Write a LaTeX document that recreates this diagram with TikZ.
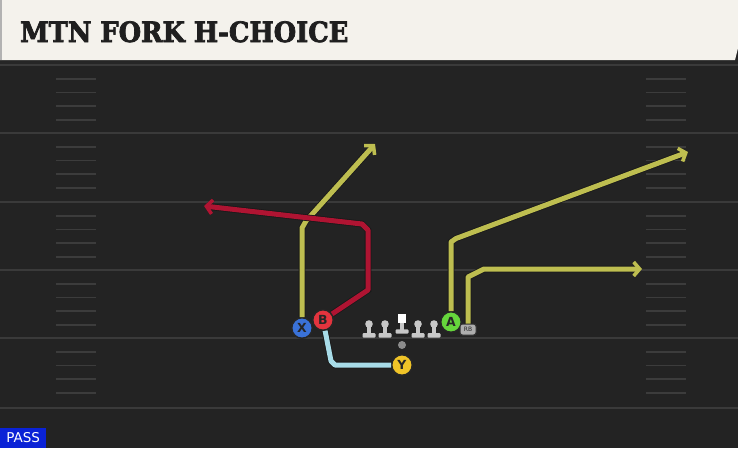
\documentclass[tikz,border=0pt]{standalone}
\usepackage{fontspec}
\setsansfont{DejaVu Sans}
\newfontfamily\titlefont{DejaVu Serif}[FakeStretch=0.92,FakeBold=2.6]
\usetikzlibrary{arrows.meta}

\definecolor{field}{HTML}{232323}
\definecolor{yardline}{HTML}{3A3A3A}
\definecolor{hashmark}{HTML}{3C3C3C}
\definecolor{titlebg}{HTML}{F4F2EC}
\definecolor{olive}{HTML}{BEBE50}
\definecolor{crimson}{HTML}{AF1432}
\definecolor{skyblue}{HTML}{A8DCE8}
\definecolor{xblue}{HTML}{3A72D8}
\definecolor{bred}{HTML}{E3343E}
\definecolor{yyellow}{HTML}{F0C428}
\definecolor{agreen}{HTML}{66D63C}
\definecolor{passblue}{HTML}{0A22D6}
\definecolor{lineman}{HTML}{C8C8C8}

\begin{document}
\begin{tikzpicture}[x=1pt,y=-1pt,>={Straight Barb[length=6pt,width=14pt,line width=3.6pt]},
    player/.style={circle,draw=black!85,line width=1.4pt,minimum size=20.5pt,inner sep=0pt,
      font=\sffamily\bfseries\fontsize{12.5}{12.5}\selectfont,text=black!85},
    route/.style={line width=5pt,line join=round,preaction={draw=black!90,line width=6.6pt}},
    hash/.style={draw=hashmark,line width=1.4pt},
    yard/.style={draw=yardline,line width=2pt}
  ]
  % field and title bar
  \useasboundingbox (0,0) rectangle (738,448);
  \fill[field] (0,0) rectangle (738,448);
  \fill[black!85] (0,58) rectangle (738,65);
  \fill[titlebg] (0,0) -- (738,0) -- (738,48) -- (735,60) -- (0,60) -- cycle;
  \fill[black!30] (0,0) rectangle (2,60);
  \node[font=\titlefont\bfseries\fontsize{28}{28}\selectfont,text=black!88,anchor=base west,inner sep=0pt]
    (title) at (20,42) {MTN FORK H-CHOICE};

  % yard lines and hash marks
  \foreach \y in {65,133,202,270,338,408}
    \draw[yard] (0,\y) -- (738,\y);
  \foreach \s in {65,133,202,270,338}
    \foreach \o in {14,27.5,41,55}{
      \draw[hash] (56,\s+\o) -- (96,\s+\o);
      \draw[hash] (646,\s+\o) -- (686,\s+\o);
    }

  % offensive line and ball
  \foreach \x in {369,385,418,434}{
    \fill[lineman] (\x,324) circle (3.8);
    \fill[lineman] (\x-2,326) rectangle (\x+2,334);
    \fill[lineman,rounded corners=1pt] (\x-6.5,333) rectangle (\x+6.5,337.5);
  }
  \fill[white] (397.6,314) rectangle (406.4,322.7);
  \fill[lineman] (400,322.7) rectangle (404,330);
  \fill[lineman,rounded corners=1pt] (395.5,329.3) rectangle (408.5,333.5);
  \node[circle,fill=black!45,minimum size=8pt,inner sep=0pt] (ball) at (402,345) {};

  % players
  \node[player,fill=xblue] (X) at (302,328) {X};
  \node[player,fill=bred] (B) at (323,320) {B};
  \node[player,fill=yyellow] (Y) at (402,365) {Y};
  \node[player,fill=agreen] (A) at (451,322) {A};
  \node[draw=black!80,fill=black!32,rounded corners=2.5pt,line width=1pt,minimum width=16pt,minimum height=11pt,
    inner sep=0pt,font=\sffamily\fontsize{6}{6}\selectfont,text=black!85] (RB) at (468,329.5) {RB};

  \coordinate (xend) at (375,144);
  \coordinate (bend) at (204,206);
  \coordinate (aend) at (688,152);
  \coordinate (rbend) at (642,269);

  % routes
  \draw[route,olive,->] (X) -- (302,228) -- (306,221) -- (xend);
  \draw[route,crimson,->] (B) -- (368,290) -- (368,230) -- (362,224) -- (bend);
  \draw[route,skyblue] (B) -- (331,361) -- (335,365) -- (Y);
  \draw[route,olive,->] (A) -- (451,242) -- (456,238.5) -- (aend);
  \draw[route,olive,->] (RB) -- (468,277) -- (474,274) -- (484,269) -- (rbend);

  % play type
  \node[fill=passblue,text=white,font=\sffamily\fontsize{13.5}{13.5}\selectfont,anchor=south west,
    minimum width=46pt,minimum height=20pt,inner sep=0pt] (pass) at (0,448) {PASS};
\end{tikzpicture}
\end{document}
